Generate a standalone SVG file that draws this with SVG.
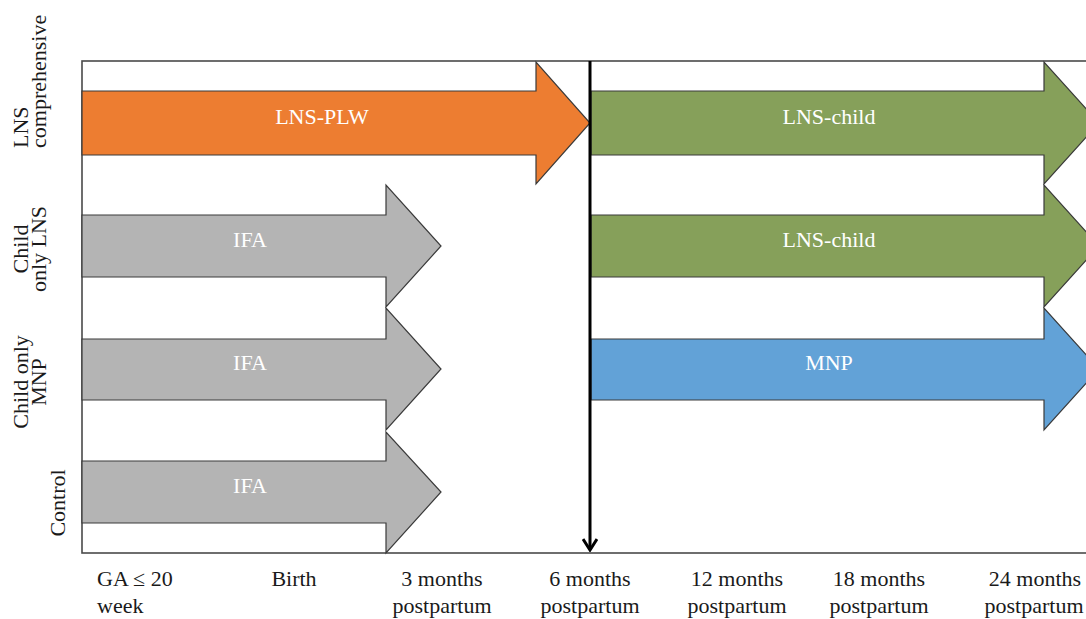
<svg xmlns="http://www.w3.org/2000/svg" width="1086" height="619" viewBox="0 0 1086 619">
<style>
  .frame { fill: #ffffff; stroke: #4a4a4a; stroke-width: 1.6; }
  .arr { stroke: #3a3a3a; stroke-width: 1.2; stroke-linejoin: miter; }
  .orange { fill: #ED7D31; }
  .gray { fill: #B4B4B4; }
  .green { fill: #86A05A; }
  .blue { fill: #62A2D7; }
  .lbl { font-family: "Liberation Serif", "Times New Roman", serif; font-size: 22px; fill: #ffffff; text-anchor: middle; }
  .side { font-family: "Liberation Serif", "Times New Roman", serif; font-size: 22px; fill: #1a1a1a; }
  .axis { font-family: "Liberation Serif", "Times New Roman", serif; font-size: 22px; fill: #1a1a1a; text-anchor: middle; }
  .axis-start { font-family: "Liberation Serif", "Times New Roman", serif; font-size: 22px; fill: #1a1a1a; text-anchor: start; }
  .conn { stroke: #000000; stroke-width: 3; fill: none; }
</style>
<defs>
  <marker id="vhead" viewBox="0 0 14 16" refX="12" refY="8" markerWidth="14" markerHeight="16" markerUnits="userSpaceOnUse" orient="auto">
    <path d="M1,1 L12,8 L1,15" fill="none" stroke="#000" stroke-width="3"/>
  </marker>
</defs>
<rect width="1086" height="619" fill="#ffffff"/>

<g id="frame">
  <rect class="frame" x="82" y="61" width="1030" height="492"/>
</g>

<g id="side-labels">
  <g id="lbl-lns-comprehensive">
    <text class="side" transform="translate(28,148) rotate(-90)" text-anchor="start">LNS</text>
    <text class="side" transform="translate(46,148) rotate(-90)" text-anchor="start">comprehensive</text>
  </g>
  <g id="lbl-child-only-lns">
    <text class="side" transform="translate(28,249) rotate(-90)" text-anchor="middle">Child</text>
    <text class="side" transform="translate(46,249) rotate(-90)" text-anchor="middle">only LNS</text>
  </g>
  <g id="lbl-child-only-mnp">
    <text class="side" transform="translate(28,382) rotate(-90)" text-anchor="middle">Child only</text>
    <text class="side" transform="translate(46,382) rotate(-90)" text-anchor="middle">MNP</text>
  </g>
  <g id="lbl-control">
    <text class="side" transform="translate(65,503) rotate(-90)" text-anchor="middle">Control</text>
  </g>
</g>

<g id="node-lns-plw">
  <path class="arr orange" d="M82,91 H536 V62 L590,123 L536,184 V155 H82 Z"/>
  <text class="lbl" x="322" y="124">LNS-PLW</text>
</g>
<g id="node-lns-child-1">
  <path class="arr green" d="M591,91 H1044 V62 L1099,123 L1044,184 V155 H591 Z"/>
  <text class="lbl" x="829" y="124">LNS-child</text>
</g>

<g id="node-ifa-1">
  <path class="arr gray" d="M82,215 H386 V185 L441,246 L386,307 V277 H82 Z"/>
  <text class="lbl" x="250" y="247">IFA</text>
</g>
<g id="node-lns-child-2">
  <path class="arr green" d="M591,215 H1044 V185 L1099,246 L1044,307 V277 H591 Z"/>
  <text class="lbl" x="829" y="247">LNS-child</text>
</g>

<g id="node-ifa-2">
  <path class="arr gray" d="M82,339 H386 V308 L441,369 L386,430 V400 H82 Z"/>
  <text class="lbl" x="250" y="370">IFA</text>
</g>
<g id="node-mnp">
  <path class="arr blue" d="M591,339 H1044 V308 L1099,369 L1044,430 V400 H591 Z"/>
  <text class="lbl" x="829" y="370">MNP</text>
</g>

<g id="node-ifa-3">
  <path class="arr gray" d="M82,461 H386 V432 L441,492 L386,553 V523 H82 Z"/>
  <text class="lbl" x="250" y="493">IFA</text>
</g>

<g id="connectors">
  <line class="conn" x1="590" y1="61" x2="590" y2="550" marker-end="url(#vhead)"/>
</g>

<g id="axis-labels">
  <text class="axis-start" x="97" y="586">GA ≤ 20</text>
  <text class="axis-start" x="97" y="613">week</text>
  <text class="axis" x="294" y="586">Birth</text>
  <text class="axis" x="442" y="586">3 months</text>
  <text class="axis" x="442" y="613">postpartum</text>
  <text class="axis" x="590" y="586">6 months</text>
  <text class="axis" x="590" y="613">postpartum</text>
  <text class="axis" x="737" y="586">12 months</text>
  <text class="axis" x="737" y="613">postpartum</text>
  <text class="axis" x="879" y="586">18 months</text>
  <text class="axis" x="879" y="613">postpartum</text>
  <text class="axis" x="1035" y="586">24 months</text>
  <text class="axis" x="1034" y="613">postpartum</text>
</g>
</svg>
